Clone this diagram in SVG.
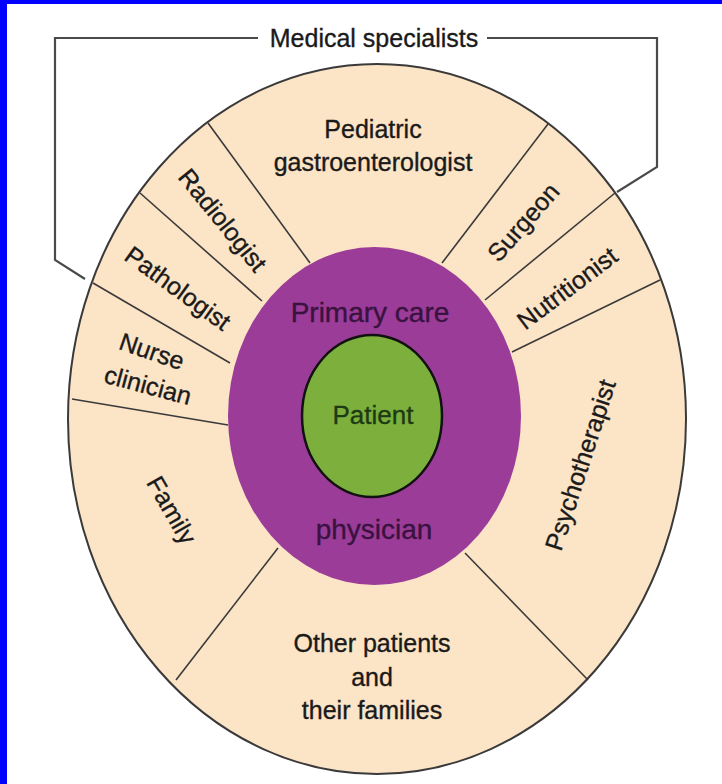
<svg xmlns="http://www.w3.org/2000/svg" width="722" height="784" viewBox="0 0 722 784">
  <style>
    .lbl { font-family: "Liberation Sans", Arial, sans-serif; font-size: 25px; fill: #1a1a1a; stroke: #1a1a1a; stroke-width: 0.35; text-anchor: middle; }
    .big { font-size: 28px; fill: #3a1240; stroke: #3a1240; }
    .pat { font-size: 26px; fill: #1e3a14; stroke: #1e3a14; }
    .div { stroke: #3a3a3a; stroke-width: 1.6; fill: none; }
    .brk { stroke: #4a4a4a; stroke-width: 2.2; fill: none; }
  </style>
  <rect x="0" y="0" width="722" height="784" fill="#ffffff"/>
  <rect x="0" y="0" width="722" height="4" fill="#0000ff"/>
  <rect x="0" y="0" width="7" height="784" fill="#0000ff"/>

  <g id="medical-specialists">
    <polyline class="brk" points="258,38 55,38 55,260 85,279"/>
    <polyline class="brk" points="487,38 657,38 657,167 617,192"/>
    <text class="lbl" x="374" y="47">Medical specialists</text>
  </g>

  <g id="outer-ring">
    <ellipse cx="377" cy="419" rx="309" ry="355" fill="#fce4c6" stroke="#3a3a3a" stroke-width="2"/>
  </g>

  <g id="connectors">
    <line class="div" x1="208" y1="123" x2="310" y2="263"/>
    <line class="div" x1="140" y1="193" x2="262" y2="301"/>
    <line class="div" x1="93" y1="283" x2="230" y2="363"/>
    <line class="div" x1="72" y1="399" x2="228" y2="425"/>
    <line class="div" x1="278" y1="548" x2="176" y2="680"/>
    <line class="div" x1="465" y1="553" x2="588" y2="680"/>
    <line class="div" x1="512" y1="352" x2="660" y2="280"/>
    <line class="div" x1="615" y1="193" x2="485" y2="300"/>
    <line class="div" x1="548" y1="124" x2="442" y2="263"/>
  </g>

  <g id="pediatric-gastroenterologist">
    <text class="lbl" x="373" y="138">Pediatric</text>
    <text class="lbl" x="373" y="171">gastroenterologist</text>
  </g>
  <g id="radiologist">
    <text class="lbl" x="223" y="229" transform="rotate(51 223 220)">Radiologist</text>
  </g>
  <g id="pathologist">
    <text class="lbl" x="178" y="297" transform="rotate(36 178 288)">Pathologist</text>
  </g>
  <g id="nurse-clinician">
    <text class="lbl" x="152" y="360" transform="rotate(19 152 351)">Nurse</text>
    <text class="lbl" x="148" y="394" transform="rotate(15 148 385)">clinician</text>
  </g>
  <g id="family">
    <text class="lbl" x="172" y="519" transform="rotate(60 172 510)">Family</text>
  </g>
  <g id="other-patients">
    <text class="lbl" x="372" y="652">Other patients</text>
    <text class="lbl" x="372" y="686">and</text>
    <text class="lbl" x="372" y="719">their families</text>
  </g>
  <g id="psychotherapist">
    <text class="lbl" x="580" y="474" transform="rotate(-72 580 465)">Psychotherapist</text>
  </g>
  <g id="nutritionist">
    <text class="lbl" x="567" y="297" transform="rotate(-37 567 288)">Nutritionist</text>
  </g>
  <g id="surgeon">
    <text class="lbl" x="523" y="231" transform="rotate(-49 523 222)">Surgeon</text>
  </g>

  <g id="primary-care-physician">
    <ellipse cx="374.5" cy="416" rx="146.5" ry="169" fill="#9b3c98"/>
    <text class="lbl big" x="370" y="322">Primary care</text>
    <text class="lbl big" x="374" y="539">physician</text>
  </g>

  <g id="patient">
    <ellipse cx="372" cy="416" rx="70" ry="81" fill="#7caf3c" stroke="#111111" stroke-width="2.5"/>
    <text class="lbl pat" x="373" y="424">Patient</text>
  </g>
</svg>
